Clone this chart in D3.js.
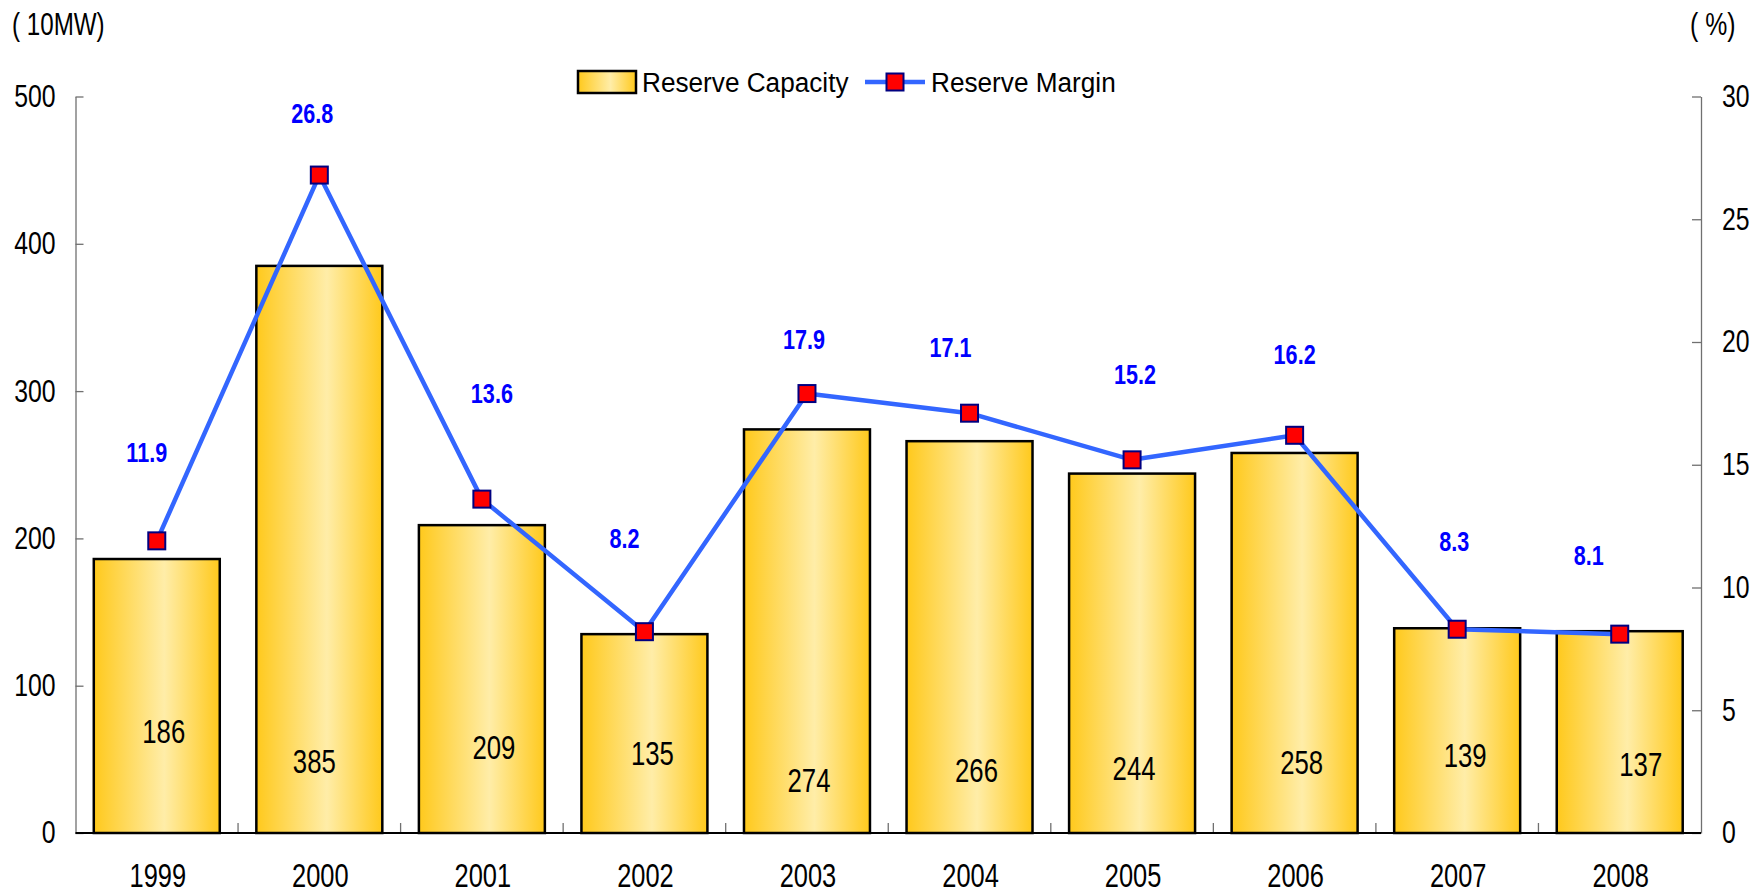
<!DOCTYPE html>
<html>
<head>
<meta charset="utf-8">
<script src="https://cdn.jsdelivr.net/npm/d3@7"></script>
<style>
  body { margin: 0; background: #fff; }
  svg { display: block; }
  text { font-family: "Liberation Sans", Arial, sans-serif; }
</style>
</head>
<body>
<div id="chart"></div>
<script>
const years = ["1999", "2000", "2001", "2002", "2003", "2004", "2005", "2006", "2007", "2008"];
const reserveCapacity = [186, 385, 209, 135, 274, 266, 244, 258, 139, 137];
const reserveMargin = [11.9, 26.8, 13.6, 8.2, 17.9, 17.1, 15.2, 16.2, 8.3, 8.1];
const capacityTicks = [0, 100, 200, 300, 400, 500];
const marginTicks = [0, 5, 10, 15, 20, 25, 30];

// data label placement as in the original (axis units, plus a sideways nudge)
const capacityLabelAt = [69, 49, 58, 54, 36, 43, 44, 48, 53, 47];
const capacityLabelNudge = [7, -5, 12, 8, 2, 7, 2, 7, 8, 21];
const marginLabelAt = [15.5, 29.3, 17.9, 12.0, 20.1, 19.8, 18.7, 19.5, 11.9, 11.3];
const marginLabelNudge = [-10, -7, 10, -20, -3, -19, 3, 0, -3, -31];

const width = 1761, height = 893;
const plotLeft = 75.5, plotRight = 1701, plotBottom = 833, plotTop = 96.5;

const svg = d3.select("#chart").append("svg")
    .attr("width", width)
    .attr("height", height);

// bar gradient: gold at the edges, pale in the middle
const grad = svg.append("defs").append("linearGradient")
    .attr("id", "gold")
    .attr("x1", "0%").attr("x2", "100%")
    .attr("y1", "0%").attr("y2", "0%");
grad.append("stop").attr("offset", "0%").attr("stop-color", "#FFC91C");
grad.append("stop").attr("offset", "56%").attr("stop-color", "#FFEDA8");
grad.append("stop").attr("offset", "100%").attr("stop-color", "#FFC91C");

const x = d3.scaleBand()
    .domain(years)
    .range([plotLeft, plotRight])
    .paddingInner(0.225)
    .paddingOuter(0.1125);

const yL = d3.scaleLinear().domain([0, 500]).range([plotBottom, plotTop]);
const yR = d3.scaleLinear().domain([0, 30]).range([plotBottom, plotTop]);

// turn x/y on a text into a transform so it can be narrowed like the original font
function squeeze(sel, k) {
    sel.each(function() {
        const t = d3.select(this);
        const tx = +t.attr("x") || 0, ty = +t.attr("y") || 0;
        t.attr("x", 0).attr("y", 0)
            .attr("transform", `translate(${tx},${ty}) scale(${k},1)`);
    });
}

// axes
const axisL = svg.append("g")
    .attr("transform", `translate(${plotLeft},0)`)
    .call(d3.axisLeft(yL).tickValues(capacityTicks).tickSize(-8).tickSizeOuter(0).tickPadding(20));
const axisR = svg.append("g")
    .attr("transform", `translate(${plotRight},0)`)
    .call(d3.axisRight(yR).tickValues(marginTicks).tickSize(-9).tickSizeOuter(0).tickPadding(21));

[axisL, axisR].forEach(g => {
    g.select(".domain").attr("stroke", "#707070").attr("stroke-width", 1.3);
    g.selectAll(".tick line").attr("stroke", "#707070").attr("stroke-width", 1.3);
    g.selectAll(".tick text")
        .attr("fill", "#000")
        .style("font-size", "31px")
        .call(squeeze, 0.8);
});

// bars
svg.append("g").selectAll("rect")
    .data(reserveCapacity)
    .join("rect")
    .attr("x", (d, i) => x(years[i]))
    .attr("y", d => yL(d))
    .attr("width", x.bandwidth())
    .attr("height", d => yL(0) - yL(d))
    .attr("fill", "url(#gold)")
    .attr("stroke", "#000")
    .attr("stroke-width", 2.5);

// category separators on the baseline
svg.append("g").selectAll("line")
    .data(d3.range(1, years.length))
    .join("line")
    .attr("x1", i => plotLeft + i * x.step())
    .attr("x2", i => plotLeft + i * x.step())
    .attr("y1", plotBottom - 10)
    .attr("y2", plotBottom)
    .attr("stroke", "#707070")
    .attr("stroke-width", 1.3);

svg.append("line")
    .attr("x1", plotLeft).attr("x2", plotRight)
    .attr("y1", plotBottom).attr("y2", plotBottom)
    .attr("stroke", "#000")
    .attr("stroke-width", 2.2);

// year labels
svg.append("g").selectAll("text")
    .data(years)
    .join("text")
    .attr("x", d => x(d) + x.bandwidth() / 2 + 1)
    .attr("y", 887)
    .attr("text-anchor", "middle")
    .style("font-size", "33px")
    .text(d => d)
    .call(squeeze, 0.77);

// capacity values inside the bars
svg.append("g").selectAll("text")
    .data(reserveCapacity)
    .join("text")
    .attr("x", (d, i) => x(years[i]) + x.bandwidth() / 2 + capacityLabelNudge[i])
    .attr("y", (d, i) => yL(capacityLabelAt[i]))
    .attr("dy", "0.36em")
    .attr("text-anchor", "middle")
    .style("font-size", "33px")
    .text(d => d)
    .call(squeeze, 0.78);

// reserve margin line
const pts = reserveMargin.map((v, i) => [x(years[i]) + x.bandwidth() / 2, yR(v)]);
svg.append("path")
    .datum(pts)
    .attr("d", d3.line())
    .attr("fill", "none")
    .attr("stroke", "#3366FF")
    .attr("stroke-width", 4.5)
    .attr("stroke-linejoin", "round");

const mk = 17;
svg.append("g").selectAll("rect")
    .data(pts)
    .join("rect")
    .attr("x", d => d[0] - mk / 2)
    .attr("y", d => d[1] - mk / 2)
    .attr("width", mk)
    .attr("height", mk)
    .attr("fill", "#FF0000")
    .attr("stroke", "#000080")
    .attr("stroke-width", 2);

svg.append("g").selectAll("text")
    .data(reserveMargin)
    .join("text")
    .attr("x", (d, i) => x(years[i]) + x.bandwidth() / 2 + marginLabelNudge[i])
    .attr("y", (d, i) => yR(marginLabelAt[i]))
    .attr("dy", "0.36em")
    .attr("text-anchor", "middle")
    .attr("fill", "#0000FF")
    .style("font-size", "27px")
    .style("font-weight", "bold")
    .text(d => d3.format(".1f")(d))
    .call(squeeze, 0.8);

// unit captions
svg.append("text")
    .attr("x", 12).attr("y", 35)
    .style("font-size", "31px")
    .text("( 10MW)")
    .call(squeeze, 0.78);
svg.append("text")
    .attr("x", 1690).attr("y", 35)
    .style("font-size", "31px")
    .text("( %)")
    .call(squeeze, 0.8);

// legend
const lg = svg.append("g");
lg.append("rect")
    .attr("x", 578).attr("y", 71)
    .attr("width", 58).attr("height", 22)
    .attr("fill", "url(#gold)")
    .attr("stroke", "#000")
    .attr("stroke-width", 2.5);
lg.append("text")
    .attr("x", 642).attr("y", 92)
    .style("font-size", "27px")
    .text("Reserve Capacity")
    .call(squeeze, 0.97);
lg.append("line")
    .attr("x1", 865).attr("x2", 925)
    .attr("y1", 82).attr("y2", 82)
    .attr("stroke", "#3366FF")
    .attr("stroke-width", 4.5);
lg.append("rect")
    .attr("x", 895 - mk / 2).attr("y", 82 - mk / 2)
    .attr("width", mk).attr("height", mk)
    .attr("fill", "#FF0000")
    .attr("stroke", "#000080")
    .attr("stroke-width", 2);
lg.append("text")
    .attr("x", 931).attr("y", 92)
    .style("font-size", "27px")
    .text("Reserve Margin")
    .call(squeeze, 0.97);
</script>
</body>
</html>
